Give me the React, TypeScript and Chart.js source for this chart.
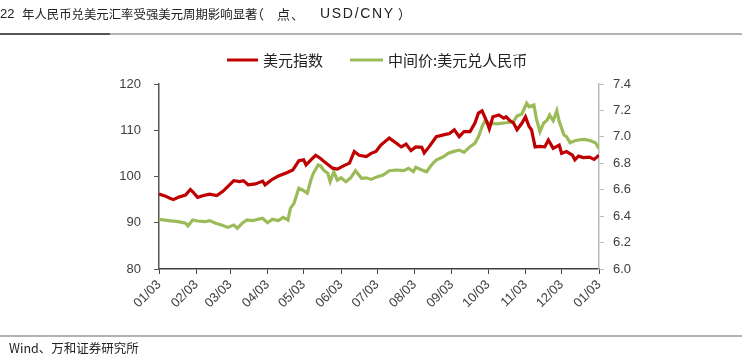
import React, { useEffect, useRef } from "react";
import { Chart, registerables } from "chart.js";

Chart.register(...registerables);

// Day offsets counted from 2022-01-03
const tickDays = [0, 31, 59, 90, 120, 151, 181, 212, 243, 273, 304, 334, 365];
const tickLabels = ["01/03", "02/03", "03/03", "04/03", "05/03", "06/03", "07/03", "08/03", "09/03", "10/03", "11/03", "12/03", "01/03"];

const usdDays = [0, 5, 9, 12, 16, 22, 26, 28, 32, 37, 42, 48, 53, 57, 62, 67, 70, 74, 80, 86, 88, 94, 99, 105, 111, 116, 120, 122, 126, 130, 134, 138, 144, 148, 153, 158, 162, 166, 172, 176, 180, 184, 191, 197, 201, 205, 209, 213, 218, 220, 224, 230, 236, 241, 245, 249, 253, 258, 262, 265, 268, 272, 274, 277, 282, 286, 288, 291, 294, 297, 301, 304, 307, 309, 312, 316, 320, 323, 327, 332, 334, 338, 343, 345, 348, 352, 357, 361, 365];
const usdIndex = [96.2, 95.8, 95.3, 95.0, 95.5, 96.0, 97.2, 96.7, 95.5, 95.9, 96.2, 95.9, 96.8, 97.8, 99.1, 98.9, 99.1, 98.2, 98.4, 99.0, 98.2, 99.4, 100.1, 100.7, 101.4, 103.4, 103.6, 102.5, 103.6, 104.6, 103.9, 103.0, 101.8, 101.6, 102.3, 102.9, 105.4, 104.6, 104.3, 105.0, 105.4, 106.8, 108.3, 107.2, 106.4, 107.0, 105.6, 106.4, 106.3, 105.1, 106.4, 108.6, 109.0, 109.3, 110.1, 108.6, 109.7, 109.7, 111.5, 113.7, 114.2, 111.8, 110.3, 112.9, 113.3, 112.6, 112.9, 112.1, 111.6, 110.1, 111.5, 112.9, 110.8, 110.1, 106.4, 106.5, 106.4, 107.9, 106.1, 106.8, 105.0, 105.4, 104.6, 103.6, 104.4, 104.1, 104.2, 103.7, 104.6];

const cnyDays = [0, 8, 16, 22, 24, 28, 32, 38, 42, 47, 52, 57, 62, 65, 69, 73, 78, 82, 86, 90, 94, 99, 103, 107, 109, 112, 116, 119, 123, 126, 128, 132, 134, 137, 140, 142, 145, 148, 151, 155, 159, 163, 168, 172, 176, 180, 186, 191, 197, 203, 207, 211, 213, 218, 222, 226, 230, 236, 240, 244, 249, 253, 258, 262, 265, 268, 270, 274, 280, 288, 294, 297, 301, 305, 307, 311, 313, 316, 319, 322, 324, 327, 330, 332, 336, 338, 341, 345, 349, 353, 358, 362, 365];
const cnyFix = [6.376, 6.366, 6.358, 6.346, 6.325, 6.371, 6.363, 6.358, 6.366, 6.346, 6.333, 6.315, 6.333, 6.308, 6.346, 6.371, 6.366, 6.376, 6.384, 6.350, 6.376, 6.366, 6.391, 6.371, 6.459, 6.497, 6.611, 6.598, 6.573, 6.673, 6.724, 6.787, 6.780, 6.744, 6.724, 6.661, 6.736, 6.673, 6.690, 6.661, 6.690, 6.744, 6.686, 6.690, 6.678, 6.694, 6.711, 6.744, 6.749, 6.744, 6.762, 6.736, 6.770, 6.749, 6.736, 6.787, 6.825, 6.850, 6.876, 6.888, 6.900, 6.883, 6.926, 6.951, 7.001, 7.077, 7.115, 7.103, 7.098, 7.107, 7.115, 7.158, 7.173, 7.254, 7.228, 7.241, 7.140, 7.039, 7.103, 7.128, 7.165, 7.122, 7.198, 7.115, 7.014, 7.001, 6.956, 6.971, 6.978, 6.981, 6.971, 6.956, 6.913];

const titlePrefix = "22";
const titleMain = "年人民币兑美元汇率受强美元周期影响显著";
const titleUnitChars = ["（", "点", "、"];
const titleUnitLatin = "USD/CNY";
const titleUnitClose = "）";
const sourceText = "Wind、万和证券研究所";
const seriesNames = ["美元指数", "中间价:美元兑人民币"];
const RED = "#C00000";
const GREEN = "#9BBB59";

const cjk = "'Noto Sans CJK SC', 'Noto Sans', sans-serif";
const latin = "'Liberation Sans', Arial, sans-serif";

const decorPlugin = {
  id: "decor",
  afterDraw(chart: any) {
    const ctx = chart.ctx as CanvasRenderingContext2D;
    ctx.save();
    // title
    ctx.fillStyle = "#222";
    ctx.textBaseline = "middle";
    ctx.textAlign = "left";
    ctx.font = `13px ${latin}`;
    ctx.fillText(titlePrefix, 0, 14);
    ctx.font = `12.4px ${cjk}`;
    const mainW = ctx.measureText(titleMain).width;
    const extra = Math.max(0, (233 - mainW) / titleMain.length);
    (ctx as any).letterSpacing = `${extra}px`;
    ctx.fillText(titleMain, 22, 14);
    (ctx as any).letterSpacing = "0px";
    ctx.font = `13px ${cjk}`;
    const unitX = [251, 277, 291];
    titleUnitChars.forEach((c, i) => ctx.fillText(c, unitX[i], 14));
    (ctx as any).letterSpacing = "1.7px";
    ctx.font = `14px ${latin}`;
    ctx.fillText(titleUnitLatin, 320, 14);
    (ctx as any).letterSpacing = "0px";
    ctx.font = `13px ${cjk}`;
    ctx.fillText(titleUnitClose, 398, 14);
    // rule under title
    ctx.strokeStyle = "#555";
    ctx.lineWidth = 2;
    ctx.beginPath();
    ctx.moveTo(0, 34);
    ctx.lineTo(110, 34);
    ctx.stroke();
    ctx.strokeStyle = "#9a9a9a";
    ctx.lineWidth = 1.5;
    ctx.beginPath();
    ctx.moveTo(110, 34);
    ctx.lineTo(742, 34);
    ctx.stroke();
    // legend
    ctx.font = `15px ${cjk}`;
    ctx.lineWidth = 3;
    ctx.strokeStyle = RED;
    ctx.beginPath();
    ctx.moveTo(227, 60);
    ctx.lineTo(258, 60);
    ctx.stroke();
    ctx.fillStyle = "#222";
    ctx.fillText(seriesNames[0], 263, 60);
    ctx.strokeStyle = GREEN;
    ctx.beginPath();
    ctx.moveTo(350, 60);
    ctx.lineTo(383, 60);
    ctx.stroke();
    ctx.fillText(seriesNames[1], 388, 60);
    // footer
    ctx.strokeStyle = "#666";
    ctx.lineWidth = 1.2;
    ctx.beginPath();
    ctx.moveTo(0, 336);
    ctx.lineTo(742, 336);
    ctx.stroke();
    ctx.font = `12.5px ${cjk}`;
    ctx.fillStyle = "#222";
    ctx.fillText(sourceText, 9, 348);
    ctx.restore();
  },
};

export default function App() {
  const ref = useRef<HTMLCanvasElement>(null);
  useEffect(() => {
    if (!ref.current) return;
    const chart = new Chart(ref.current, {
      type: "line",
      data: {
        datasets: [
          {
            label: seriesNames[0],
            data: usdDays.map((d, i) => ({ x: d, y: usdIndex[i] })),
            borderColor: RED,
            backgroundColor: RED,
            borderWidth: 3.2,
            pointRadius: 0,
            tension: 0,
            yAxisID: "y",
          },
          {
            label: seriesNames[1],
            data: cnyDays.map((d, i) => ({ x: d, y: cnyFix[i] })),
            borderColor: GREEN,
            backgroundColor: GREEN,
            borderWidth: 3.2,
            pointRadius: 0,
            tension: 0,
            yAxisID: "y1",
          },
        ],
      },
      options: {
        animation: false,
        responsive: false,
        layout: { padding: { top: 84, left: 0, right: 0, bottom: 0 } },
        plugins: { legend: { display: false }, title: { display: false }, tooltip: { enabled: false } },
        scales: {
          x: {
            type: "linear",
            min: 0,
            max: 365,
            afterBuildTicks: (s: any) => {
              s.ticks = tickDays.map((v) => ({ value: v }));
            },
            afterFit: (s: any) => {
              s.height = 87;
            },
            ticks: {
              autoSkip: false,
              minRotation: 45,
              maxRotation: 45,
              padding: 3,
              color: "#404040",
              font: { size: 13, family: latin },
              callback: (_v: any, i: number) => tickLabels[i],
            },
            grid: { drawOnChartArea: false, drawTicks: true, tickLength: 5, color: "#404040" },
            border: { color: "#404040", width: 1.5 },
          },
          y: {
            position: "left",
            min: 80,
            max: 120,
            afterFit: (s: any) => {
              s.width = 159;
            },
            ticks: { stepSize: 10, padding: 13, color: "#404040", font: { size: 13, family: latin } },
            grid: { drawOnChartArea: false, drawTicks: true, tickLength: 5, color: "#555" },
            border: { color: "#555", width: 1.5 },
          },
          y1: {
            position: "right",
            min: 6.0,
            max: 7.4,
            afterFit: (s: any) => {
              s.width = 143;
            },
            ticks: {
              stepSize: 0.2,
              padding: 9,
              color: "#404040",
              font: { size: 13, family: latin },
              callback: (v: any) => Number(v).toFixed(1),
            },
            grid: { drawOnChartArea: false, drawTicks: true, tickLength: 5, color: "#bbb" },
            border: { color: "#bbb", width: 1.5 },
          },
        },
      },
      plugins: [decorPlugin],
    });
    return () => chart.destroy();
  }, []);
  return (
    <div style={{ position: "fixed", left: 0, top: 0, width: 742, height: 356, background: "#fff" }}>
      <canvas ref={ref} width={742} height={356} style={{ display: "block" }} />
    </div>
  );
}
